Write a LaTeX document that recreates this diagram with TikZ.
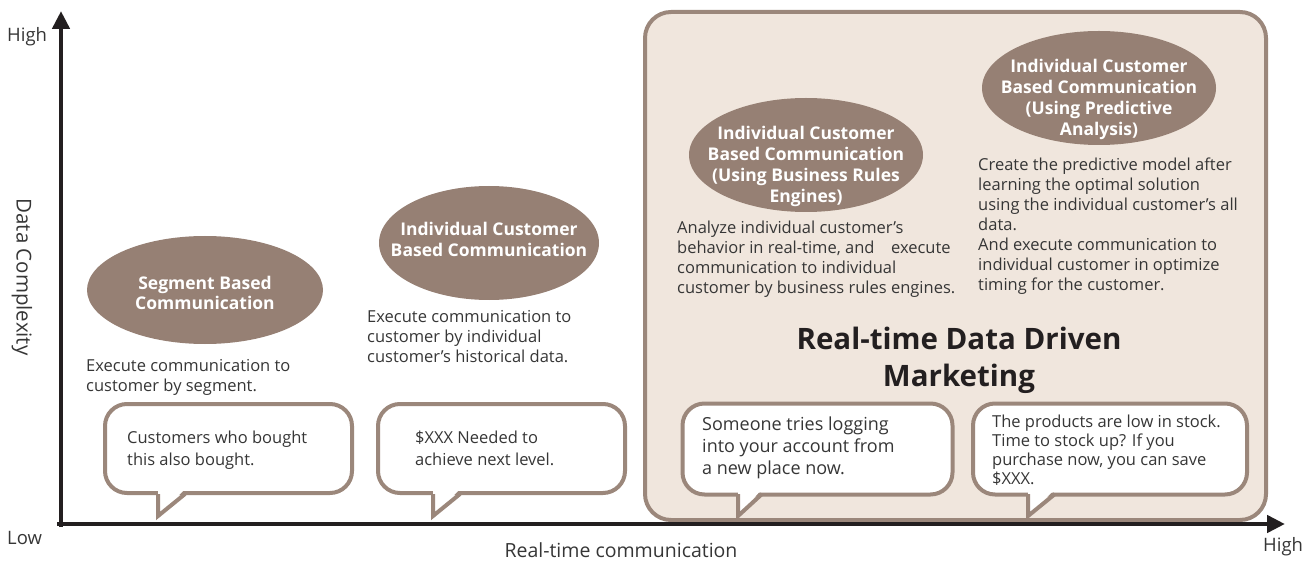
\documentclass[tikz,border=0pt]{standalone}
\usepackage{fontspec}
\setmainfont{Open Sans}
\usetikzlibrary{shapes.geometric,arrows.meta}
\definecolor{ellfill}{HTML}{968074}
\definecolor{brd}{HTML}{9B877B}
\definecolor{boxfill}{HTML}{F0E6DD}
\definecolor{txt}{HTML}{363636}
\definecolor{axis}{HTML}{231F20}
\tikzset{
  ell/.style={ellipse,fill=ellfill,draw=none,inner sep=0pt},
  elltext/.style={inner sep=0pt,text=white,align=center,
    font=\fontsize{17.5}{21}\selectfont\bfseries},
  desc/.style={anchor=north west,inner sep=0pt,align=left,text=txt,
    font=\fontsize{16.5}{20}\selectfont},
  bubble/.style={draw=brd,line width=4pt,fill=white,rounded corners=22pt,inner sep=0pt},
  btext/.style={anchor=north west,inner sep=0pt,align=left,text=txt,
    font=\fontsize{16.5}{22}\selectfont},
  tail/.style={draw=brd,line width=4pt,line join=miter},
  axlab/.style={inner sep=0pt,text=txt,font=\fontsize{18.5}{20}\selectfont},
}
\begin{document}
\begin{tikzpicture}[x=1pt,y=-1pt]
\useasboundingbox (0,0) rectangle (1314,561);
% big region
\node[draw=brd,fill=boxfill,line width=4pt,rounded corners=26pt,minimum width=621pt,minimum height=508pt,inner sep=0pt] (region) at (955.5,266) {};
% axes
\coordinate (origin) at (61,524);
\coordinate (ytop) at (61,11);
\coordinate (xend) at (1285,524);
\draw[axis,line width=4.5pt,-{Triangle[length=18pt,width=17pt]}] (61,527) -- (ytop);
\draw[axis,line width=4.5pt,-{Triangle[length=18pt,width=17pt]}] (57,524) -- (xend);
\node[axlab,anchor=base west] (yhigh) at (7,42) {High};
\node[axlab,anchor=base west] (ylow) at (7,544) {Low};
\node[axlab,anchor=base west] (xhigh) at (1263,551) {High};
\node[axlab,font=\fontsize{19.5}{21}\selectfont,anchor=base] (xlab) at (621,557) {Real-time communication};
\node[axlab,font=\fontsize{20.5}{22}\selectfont,rotate=-90] (ylab) at (22,277) {Data Complexity};
% ellipses
\node[ell,minimum width=236pt,minimum height=108pt] (e1) at (205,290) {};
\node[ell,minimum width=220pt,minimum height=114pt] (e2) at (489,243) {};
\node[ell,minimum width=234pt,minimum height=114pt] (e3) at (806,155) {};
\node[ell,minimum width=234pt,minimum height=114pt] (e4) at (1099,88) {};
\node[elltext,font=\fontsize{17.5}{20}\selectfont\bfseries] (e1t) at (205,293) {Segment Based\\Communication};
\node[elltext] (e2t) at (489,239) {Individual Customer\\Based Communication};
\node[elltext] (e3t) at (806,166) {Individual Customer\\Based Communication\\(Using Business Rules\\Engines)};
\node[elltext] (e4t) at (1099,99) {Individual Customer\\Based Communication\\(Using Predictive\\Analysis)};
% descriptions
\node[desc] (d1) at (86,359) {Execute communication to\\customer by segment.};
\node[desc] (d2) at (367,310) {Execute communication to\\customer by individual\\customer’s historical data.};
\node[desc] (d3) at (677,221) {Analyze individual customer’s\\behavior in real-time, and\quad execute\\communication to individual\\customer by business rules engines.};
\node[desc] (d4) at (978,158) {Create the predictive model after\\learning the optimal solution\\using the individual customer’s all\\data.\\And execute communication to\\individual customer in optimize\\timing for the customer.};
% title
\node[inner sep=0pt,align=center,text=axis,font=\fontsize{29.5}{37}\selectfont\bfseries] (title) at (959,360) {Real-time Data Driven\\Marketing};
% bubbles
\node[bubble,minimum width=247pt,minimum height=89pt] (b1) at (228.5,448.5) {};
\node[bubble,minimum width=247pt,minimum height=89pt] (b2) at (501.5,448.5) {};
\node[bubble,minimum width=270pt,minimum height=91pt] (b3) at (817.5,449) {};
\node[bubble,minimum width=274pt,minimum height=91pt] (b4) at (1110,449) {};
% tails
\foreach \n/\l/\r in {b1/158/185, b2/433/460, b3/738/762, b4/1028/1055}{
  \coordinate (\n tip) at (\l,516);
  \fill[white] (\l,489) -- (\n tip) -- (\r,489) -- cycle;
  \draw[tail] (\l,494) -- (\n tip) -- (\r,494);
}
% bubble texts
\node[btext] (t1) at (127,431) {Customers who bought\\this also bought.};
\node[btext] (t2) at (415,431) {\$XXX Needed to\\achieve next level.};
\node[btext,font=\fontsize{18}{22}\selectfont] (t3) at (702,417) {Someone tries logging\\into your account from\\a new place now.};
\node[btext,font=\fontsize{16.5}{19}\selectfont] (t4) at (992,415) {The products are low in stock.\\Time to stock up? If you\\purchase now, you can save\\\$XXX.};
\end{tikzpicture}
\end{document}
